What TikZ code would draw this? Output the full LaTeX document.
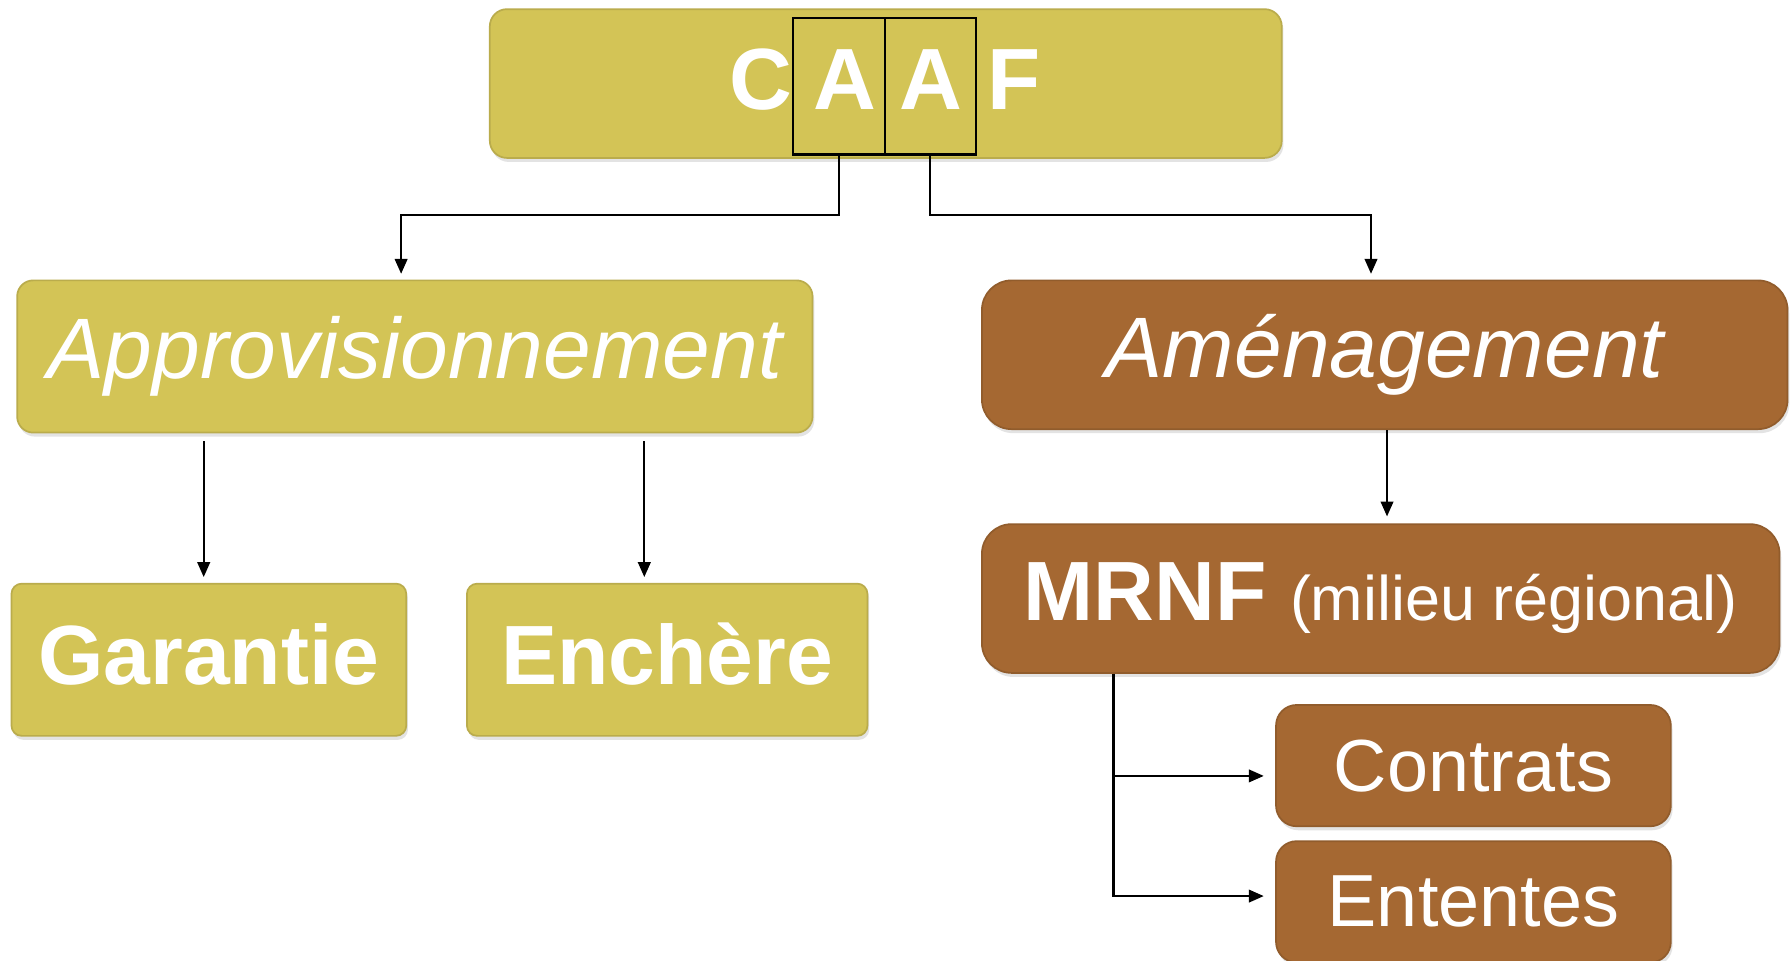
\documentclass[tikz,border=0pt]{standalone}
\usepackage{fontspec}
\setmainfont{Liberation Sans}
\usetikzlibrary{shadows,arrows.meta}
\definecolor{olivebox}{RGB}{211,196,86}
\definecolor{rustbox}{RGB}{165,104,50}
\tikzset{
  box/.style={rounded corners=#1, inner sep=0pt, text=white, line width=1.5pt,
    drop shadow={opacity=0.22, shadow xshift=1.5pt, shadow yshift=-3.5pt}},
  ybox/.style={box=#1, fill=olivebox, draw=olivebox!88!black},
  bbox/.style={box=#1, fill=rustbox, draw=rustbox!88!black},
  letter/.style={anchor=base, text=white, inner sep=0pt, font=\fontsize{76pt}{80pt}\selectfont\bfseries},
  framebox/.style={draw=black, line width=1.8pt, minimum width=80pt, minimum height=119pt, inner sep=0pt},
  conn/.style={draw=black, line width=1.8pt, -{Triangle[length=13pt,width=11pt]}},
  bigital/.style={font=\fontsize{75pt}{80pt}\selectfont\itshape},
  bigbold/.style={font=\fontsize{73.5pt}{80pt}\selectfont\bfseries, text height=54pt, text depth=11pt},
  midreg/.style={font=\fontsize{64.5pt}{70pt}\selectfont},
}
\begin{document}
\begin{tikzpicture}[x=1pt,y=-1pt]
\useasboundingbox[fill=white] (0,0) rectangle (1565,839.7);
% boxes
\node[ybox=15pt, minimum width=692pt, minimum height=130pt] (caaf) at (774,73) {};
\node[ybox=14pt, minimum width=695pt, minimum height=133pt, bigital] (approv) at (362.5,311.5) {Approvisionnement};
\node[bbox=26pt, minimum width=704pt, minimum height=130pt, bigital] (amen) at (1210,310) {Aménagement};
\node[ybox=9pt, minimum width=345pt, minimum height=133pt, bigbold] (garantie) at (182.5,576.5) {Garantie};
\node[ybox=9pt, minimum width=350pt, minimum height=133pt, bigbold] (enchere) at (583,576.5) {Enchère};
\node[bbox=26pt, minimum width=697pt, minimum height=130pt] (mrnf) at (1206.5,523)
  {{\fontsize{73.5pt}{80pt}\selectfont\bfseries MRNF\ }{\fontsize{55pt}{60pt}\selectfont (milieu régional)}};
\node[bbox=18pt, minimum width=345pt, minimum height=106pt, midreg] (contrats) at (1287.5,669) {Contrats};
\node[bbox=18pt, minimum width=345pt, minimum height=106pt, midreg] (ententes) at (1287.5,788) {Ententes};
% CAAF letters and frames
\node[framebox] (abox1) at (733,75.5) {};
\node[framebox] (abox2) at (813,75.5) {};
\node[letter] (c1) at (664.5,95.5) {C};
\node[letter] (a1) at (738.5,95.5) {A};
\node[letter] (a2) at (813.5,95.5) {A};
\node[letter] (f1) at (886,95.5) {F};
% connectors
\draw[conn, shorten >=5pt] (abox1.south) -- ++(0,52) -| ([xshift=-12pt]approv.north);
\draw[conn, shorten >=5pt] (abox2.south) -- ++(0,52) -| ([xshift=-12pt]amen.north);
\draw[conn, shorten <=7pt, shorten >=5pt] ([xshift=-4.5pt]garantie.north |- approv.south) -- ([xshift=-4.5pt]garantie.north);
\draw[conn, shorten <=7pt, shorten >=5pt] ([xshift=-20pt]enchere.north |- approv.south) -- ([xshift=-20pt]enchere.north);
\draw[conn, shorten >=6pt] ([xshift=2pt]amen.south) -- ([xshift=2pt]amen.south |- mrnf.north);
\coordinate (trunk) at ([xshift=-233.5pt]mrnf.south);
\draw[conn, shorten >=10pt] (trunk) |- ([yshift=-9pt]contrats.west);
\draw[conn, shorten >=10pt] (trunk) |- ([yshift=5pt]ententes.west);
\end{tikzpicture}
\end{document}
